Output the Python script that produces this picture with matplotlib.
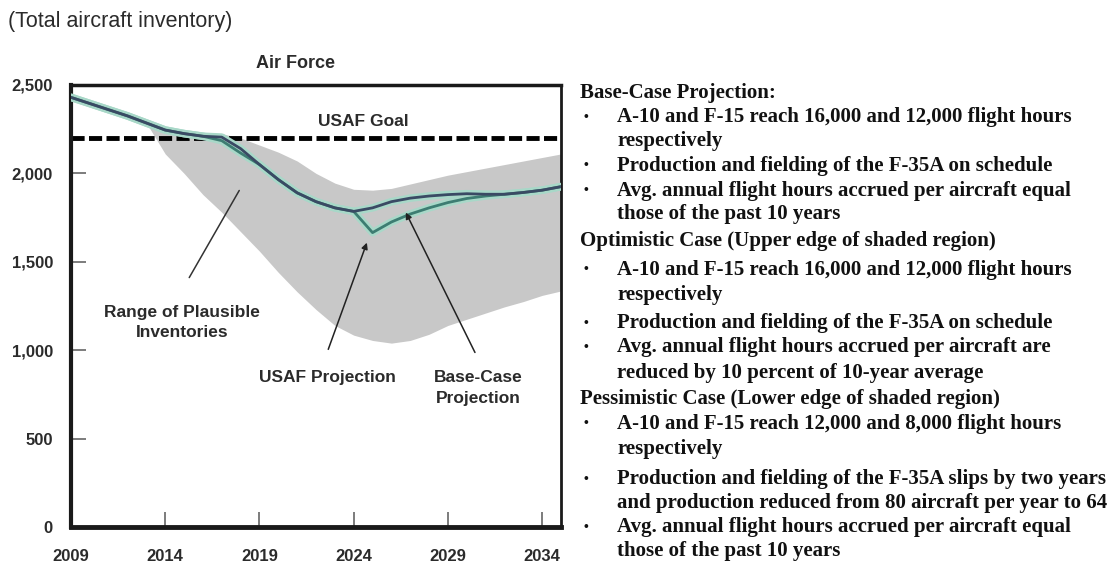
import matplotlib
matplotlib.use('Agg')
import matplotlib.pyplot as plt

# Data
years = list(range(2009, 2036))
base_case = [2430, 2395, 2360, 2325, 2285, 2245, 2225, 2210, 2205, 2140, 2050,
             1965, 1890, 1840, 1805, 1785, 1805, 1840, 1860, 1872, 1880, 1885,
             1882, 1882, 1892, 1905, 1925]
usaf_proj = [2430, 2395, 2360, 2325, 2285, 2245, 2225, 2210, 2185, 2115, 2050,
             1965, 1890, 1840, 1805, 1785, 1665, 1725, 1770, 1805, 1835, 1858,
             1872, 1882, 1892, 1905, 1925]
band_years = list(range(2013, 2036))
band_upper = [2285, 2250, 2235, 2230, 2225, 2200, 2160, 2120, 2070, 2000, 1945,
              1910, 1905, 1915, 1940, 1965, 1990, 2010, 2030, 2050, 2070, 2090, 2110]
band_lower = [2285, 2110, 2000, 1880, 1780, 1670, 1560, 1440, 1330, 1230, 1140,
              1085, 1055, 1040, 1055, 1090, 1140, 1175, 1210, 1245, 1275, 1310, 1335]
usaf_goal = 2200
xticks = [2009, 2014, 2019, 2024, 2029, 2034]
yticks = [0, 500, 1000, 1500, 2000, 2500]

notes = [
    ("h", "Base-Case Projection:", 93),
    ("b", "A-10 and F-15 reach 16,000 and 12,000 flight hours", 117),
    ("c", "respectively", 141),
    ("b", "Production and fielding of the F-35A on schedule", 166),
    ("b", "Avg. annual flight hours accrued per aircraft equal", 191),
    ("c", "those of the past 10 years", 214),
    ("h", "Optimistic Case (Upper edge of shaded region)", 241),
    ("b", "A-10 and F-15 reach 16,000 and 12,000 flight hours", 270),
    ("c", "respectively", 295),
    ("b", "Production and fielding of the F-35A on schedule", 323),
    ("b", "Avg. annual flight hours accrued per aircraft are", 347),
    ("c", "reduced by 10 percent of 10-year average", 373),
    ("h", "Pessimistic Case (Lower edge of shaded region)", 399),
    ("b", "A-10 and F-15 reach 12,000 and 8,000 flight hours", 424),
    ("c", "respectively", 449),
    ("b", "Production and fielding of the F-35A slips by two years", 479),
    ("c", "and production reduced from 80 aircraft per year to 64", 503),
    ("b", "Avg. annual flight hours accrued per aircraft equal", 527),
    ("c", "those of the past 10 years", 551),
]

sans = ['Liberation Sans', 'DejaVu Sans']
serif = ['Liberation Serif', 'DejaVu Serif']
ink = '#2b2b2b'

fig = plt.figure(figsize=(11.2, 5.75), dpi=100)
ax = fig.add_axes([0.0634, 0.0835, 0.4375, 0.7687])

ax.fill_between(band_years, band_lower, band_upper, color='#c8c8c8', lw=0, zorder=1)
ax.axhline(usaf_goal, color='black', lw=3.5, ls=(0, (2.7, 0.9)), zorder=2)

# pale glow under a dark core for the two projections
ax.plot(years, usaf_proj, color='#a8d8c8', lw=5.5, zorder=3, solid_capstyle='round')
ax.plot(years, base_case, color='#a8d8c8', lw=5.5, zorder=3, solid_capstyle='round')
ax.plot(years, usaf_proj, color='#3d7d72', lw=2, zorder=4)
ax.plot(years, base_case, color='#3a4a64', lw=2, zorder=5)

ax.set_xlim(2009, 2035)
ax.set_ylim(0, 2500)
ax.set_xticks(xticks)
ax.set_yticks(yticks)
ax.set_xticklabels([str(t) for t in xticks])
ax.set_yticklabels(['{:,}'.format(t) for t in yticks])
ax.tick_params(direction='in', length=11, width=1.2, color='#666666',
               labelcolor=ink, labelsize=12)
ax.tick_params(axis='y', pad=13)
ax.tick_params(axis='x', pad=16)
for lab in ax.get_xticklabels() + ax.get_yticklabels():
    lab.set_family(sans)
    lab.set_fontweight('bold')
for side, w in [('left', 3), ('bottom', 3.5), ('top', 2.5), ('right', 2)]:
    ax.spines[side].set_linewidth(w)
    ax.spines[side].set_color('#1a1a1a')

lbl = dict(ha='center', va='center', fontweight='bold', family=sans, color=ink)
ax.text(2024.5, 2292, 'USAF Goal', fontsize=12.5, **lbl)
ax.text(2020.9, 2624, 'Air Force', fontsize=13, clip_on=False, **lbl)
ax.text(2014.9, 1157, 'Range of Plausible\nInventories', fontsize=12.5,
        linespacing=1.45, **lbl)
ax.text(2022.6, 848, 'USAF Projection', fontsize=12.5, **lbl)
ax.text(2030.6, 786, 'Base-Case\nProjection', fontsize=12.5, linespacing=1.45, **lbl)

ax.annotate('', xy=(2018.0, 1917), xytext=(2015.2, 1397),
            arrowprops=dict(arrowstyle='-', color='#333333', lw=1.1), zorder=6)
ax.annotate('', xy=(2024.75, 1623), xytext=(2022.6, 990),
            arrowprops=dict(arrowstyle='-|>', color='#222222', lw=1.1,
                            mutation_scale=9), zorder=6)
ax.annotate('', xy=(2026.7, 1793), xytext=(2030.5, 973),
            arrowprops=dict(arrowstyle='-|>', color='#222222', lw=1.1,
                            mutation_scale=9), zorder=6)

fig.text(0.007, 1 - 21 / 575, '(Total aircraft inventory)', ha='left', va='center',
         fontsize=15.5, family=sans, color=ink)

for kind, txt, py in notes:
    y = 1 - py / 575
    if kind == 'h':
        fig.text(580 / 1120, y, txt, ha='left', va='center', fontsize=15,
                 fontweight='bold', family=serif, color='#111111')
    else:
        if kind == 'b':
            fig.text(584 / 1120, y, '\u2022', ha='left', va='center', fontsize=10,
                     fontweight='bold', family=serif, color='#111111')
        fig.text(617 / 1120, y, txt, ha='left', va='center', fontsize=15,
                 fontweight='bold', family=serif, color='#111111')

fig.savefig('out.png', dpi=100, facecolor='white')
